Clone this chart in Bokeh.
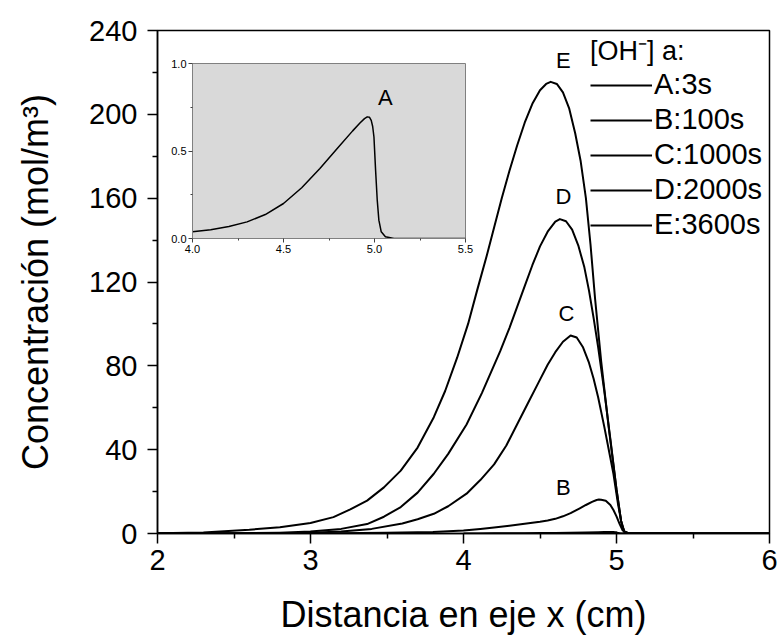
from bokeh.plotting import figure
from bokeh.layouts import column
from bokeh.models import (Range1d, FixedTicker, Label, Legend, LegendItem)
from bokeh.embed import file_html
from bokeh.resources import INLINE

# ---------------- data ----------------
x_ticks = [2, 3, 4, 5, 6]
x_minor = [2.5, 3.5, 4.5, 5.5]
y_ticks = [0, 40, 80, 120, 160, 200, 240]
y_minor = [20, 60, 100, 140, 180, 220]

# A: 3 s (shown in the inset)
a_x = [4.0, 4.1, 4.2, 4.3, 4.4, 4.5, 4.6, 4.7, 4.8, 4.88, 4.92, 4.945, 4.96, 4.972, 4.982,
       4.99, 4.997, 5.006, 5.015, 5.024, 5.037, 5.06, 5.107, 5.5]
a_y = [0.038, 0.05, 0.068, 0.095, 0.137, 0.2, 0.29, 0.40, 0.52, 0.615, 0.66, 0.685, 0.695,
       0.693, 0.675, 0.64, 0.58, 0.39, 0.22, 0.105, 0.038, 0.01, 0.0, 0.0]

# B: 100 s
b_x = [2.0, 3.0, 3.5, 3.8, 4.0, 4.11, 4.2, 4.3, 4.4, 4.5, 4.55, 4.6, 4.65, 4.7, 4.76, 4.8,
       4.84, 4.87, 4.885, 4.9, 4.93, 4.96, 4.98, 5.0, 5.02, 5.04, 5.06, 5.09, 6.0]
b_y = [0.0, 0.05, 0.3, 0.7, 1.4, 2.2, 2.9, 3.7, 4.6, 5.6, 6.2, 7.0, 8.2, 9.7, 12.0, 13.6,
       15.1, 16.0, 16.2, 16.1, 15.6, 13.6, 11.2, 8.2, 4.6, 1.5, 0.2, 0.0, 0.0]

# C: 1000 s
c_x = [2.0, 2.6, 3.0, 3.2, 3.4, 3.6, 3.7, 3.806, 3.9, 4.02, 4.11, 4.2, 4.28, 4.35, 4.42,
       4.49, 4.55, 4.6, 4.65, 4.70, 4.74, 4.78, 4.82, 4.85, 4.88, 4.92, 4.96, 4.98, 5.01,
       5.035, 5.05, 5.08, 6.0]
c_y = [0.0, 0.05, 0.3, 0.9, 2.2, 4.8, 6.8, 9.4, 13.0, 19.0, 25.5, 33.0, 42.0, 52.0, 62.0,
       72.0, 80.5, 86.5, 91.5, 94.5, 93.5, 89.0, 81.5, 74.0, 65.0, 51.0, 36.0, 28.5, 14.0,
       4.0, 1.0, 0.0, 0.0]

# D: 2000 s
d_x = [2.0, 2.5, 2.8, 3.0, 3.2, 3.37, 3.48, 3.59, 3.7, 3.806, 3.9, 4.02, 4.12, 4.24, 4.3,
       4.35, 4.4, 4.45, 4.5, 4.55, 4.6, 4.63, 4.67, 4.71, 4.75, 4.79, 4.82, 4.85, 4.88, 4.92,
       4.96, 5.0, 5.03, 5.05, 5.08, 6.0]
d_y = [0.0, 0.1, 0.4, 0.9, 2.2, 4.5, 8.0, 12.6, 19.5, 28.5, 38.0, 52.0, 67.0, 87.0, 98.0,
       108.0, 118.0, 128.0, 137.0, 144.0, 148.8, 150.0, 149.0, 145.0, 137.5, 127.0, 116.0,
       103.0, 89.0, 68.0, 45.0, 21.0, 6.0, 1.0, 0.0, 0.0]

# E: 3600 s
e_x = [2.0, 2.3, 2.6, 2.8, 3.0, 3.15, 3.26, 3.37, 3.48, 3.59, 3.7, 3.806, 3.88, 3.959, 4.03,
       4.089, 4.15, 4.2, 4.25, 4.3, 4.35, 4.4, 4.45, 4.5, 4.54, 4.57, 4.61, 4.65, 4.69, 4.73,
       4.765, 4.8, 4.83, 4.86, 4.9, 4.95, 5.0, 5.03, 5.05, 5.08, 6.0]
e_y = [0.1, 0.5, 1.8, 3.0, 5.0, 7.8, 11.5, 15.7, 22.0, 30.0, 41.0, 55.5, 68.0, 84.0, 100.0,
       116.0, 132.0, 146.0, 160.0, 173.0, 185.0, 196.0, 205.0, 211.5, 214.5, 215.5, 214.5,
       210.5, 203.0, 191.0, 178.0, 160.0, 138.0, 112.0, 82.0, 50.0, 21.0, 6.0, 1.0, 0.0, 0.0]

series_labels = ["A:3s", "B:100s", "C:1000s", "D:2000s", "E:3600s"]
curve_letters = ["B", "C", "D", "E"]
letter_pos_x = [4.653, 4.673, 4.653, 4.653]
letter_pos_y = [21.9, 105.0, 160.8, 225.7]

x_title = "Distancia en eje x (cm)"
y_title = "Concentración (mol/m³)"

inset_x_ticks = [4.0, 4.5, 5.0, 5.5]
inset_x_minor = [4.25, 4.75, 5.25]
inset_y_ticks = [0.0, 0.5, 1.0]
inset_y_minor = [0.25, 0.75]

FONT = "Liberation Sans"

# ---------------- main figure ----------------
p = figure(width=779, height=638, x_range=Range1d(2, 6), y_range=Range1d(0, 240),
           output_backend="svg", toolbar_location=None,
           min_border_left=157, min_border_right=10, min_border_top=30, min_border_bottom=105)
p.grid.visible = False
p.outline_line_color = "black"
p.outline_line_width = 1.5
p.background_fill_color = "white"
p.border_fill_color = "white"

series = [(a_x, a_y), (b_x, b_y), (c_x, c_y), (d_x, d_y), (e_x, e_y)]
renderers = []
for sx, sy in series:
    r = p.line(x=sx, y=sy, line_color="black", line_width=2, line_join="round")
    renderers.append(r)

for ax in (p.xaxis[0], p.yaxis[0]):
    ax.axis_line_width = 1.5
    ax.major_tick_in = 0
    ax.major_tick_out = 10
    ax.minor_tick_in = 0
    ax.minor_tick_out = 5
    ax.major_tick_line_width = 1.5
    ax.minor_tick_line_width = 1.5
    ax.major_label_text_font = FONT
    ax.major_label_text_font_size = "29px"
    ax.major_label_text_color = "black"
    ax.axis_label_text_font = FONT
    ax.axis_label_text_font_size = "36px"
    ax.axis_label_text_font_style = "normal"
    ax.axis_label_text_color = "black"
    ax.axis_label_text_line_height = 0.9
    ax.major_label_text_line_height = 0.9

p.xaxis[0].ticker = FixedTicker(ticks=x_ticks, minor_ticks=x_minor)
p.yaxis[0].ticker = FixedTicker(ticks=y_ticks, minor_ticks=y_minor)
p.xaxis[0].major_label_standoff = 6
p.yaxis[0].major_label_standoff = 10
p.xaxis[0].axis_label = x_title
p.yaxis[0].axis_label = y_title
p.xaxis[0].axis_label_standoff = 21
p.yaxis[0].axis_label_standoff = 30

for letter, lx, ly in zip(curve_letters, letter_pos_x, letter_pos_y):
    p.add_layout(Label(x=lx, y=ly, text=letter, text_align="center", text_baseline="middle",
                       text_font=FONT, text_font_size="22px", text_color="black"))

legend = Legend(items=[LegendItem(label=lab, renderers=[r]) for lab, r in zip(series_labels, renderers)],
                location=(433, 292), title="[OH⁻] a:",
                title_text_font=FONT, title_text_font_size="27px", title_text_font_style="normal",
                title_text_color="black", title_standoff=0,
                label_text_font=FONT, label_text_font_size="29px", label_text_color="black",
                glyph_width=62, glyph_height=30, label_height=30, spacing=2,
                label_standoff=2, padding=0, margin=0,
                border_line_alpha=0, background_fill_alpha=0)
p.add_layout(legend, "center")

# ---------------- inset ----------------
inset = figure(width=440, height=204, x_range=Range1d(4.0, 5.5), y_range=Range1d(0, 1),
               output_backend="svg", toolbar_location=None,
               min_border_left=157, min_border_right=10, min_border_top=5, min_border_bottom=24)
inset.grid.visible = False
inset.background_fill_color = "#d9d9d9"
inset.border_fill_alpha = 0
inset.outline_line_color = "#808080"
inset.outline_line_width = 1
inset.line(x=a_x, y=a_y, line_color="black", line_width=1.5, line_join="round")
for ax in (inset.xaxis[0], inset.yaxis[0]):
    ax.axis_line_color = "#808080"
    ax.major_tick_in = 0
    ax.major_tick_out = 4
    ax.minor_tick_in = 0
    ax.minor_tick_out = 2
    ax.major_tick_line_color = "#404040"
    ax.minor_tick_line_color = "#404040"
    ax.major_label_text_font = FONT
    ax.major_label_text_font_size = "11px"
    ax.major_label_text_color = "black"
    ax.major_label_standoff = 2
inset.xaxis[0].ticker = FixedTicker(ticks=inset_x_ticks, minor_ticks=inset_x_minor)
inset.yaxis[0].ticker = FixedTicker(ticks=inset_y_ticks, minor_ticks=inset_y_minor)
inset.xaxis[0].major_label_overrides = {4.0: "4.0", 4.5: "4.5", 5.0: "5.0", 5.5: "5.5"}
inset.yaxis[0].major_label_overrides = {0.0: "0.0", 0.5: "0.5", 1.0: "1.0"}
inset.add_layout(Label(x=5.06, y=0.806, text="A", text_align="center", text_baseline="middle",
                       text_font=FONT, text_font_size="22px", text_color="black"))
inset.styles = {"position": "absolute", "left": "35px", "top": "58px"}

root = column(p, inset, styles={"position": "relative"})

with open("out.html", "w") as f:
    f.write(file_html(root, INLINE))
